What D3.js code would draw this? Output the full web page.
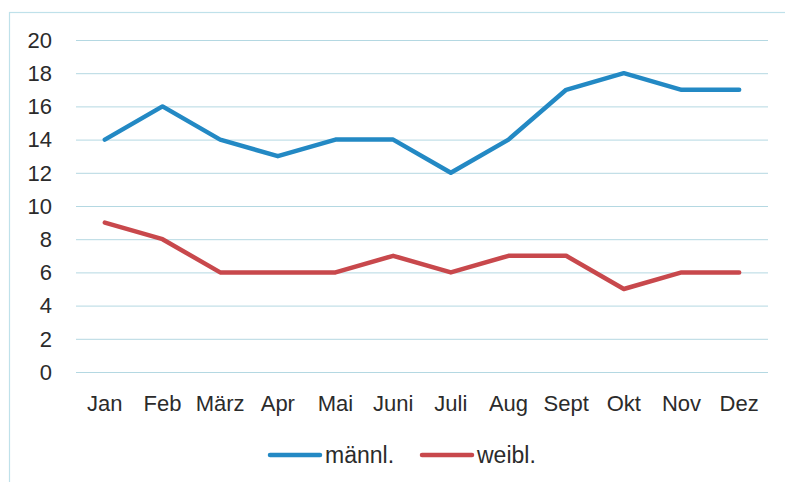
<!DOCTYPE html>
<html>
<head>
<meta charset="utf-8">
<script src="https://cdn.jsdelivr.net/npm/d3@7"></script>
<style>
  body { margin: 0; background: #fff; }
  svg { display: block; font-family: "Liberation Sans", Arial, sans-serif; }
</style>
</head>
<body>
<div id="chart"></div>
<script>
const months = ['Jan', 'Feb', 'März', 'Apr', 'Mai', 'Juni', 'Juli', 'Aug', 'Sept', 'Okt', 'Nov', 'Dez'];
const maennl = [14, 16, 14, 13, 14, 14, 12, 14, 17, 18, 17, 17];
const weibl = [9, 8, 6, 6, 6, 7, 6, 7, 7, 5, 6, 6];
const yTicks = [0, 2, 4, 6, 8, 10, 12, 14, 16, 18, 20];

const width = 785;
const height = 482;
const plotLeft = 76, plotRight = 768, plotTop = 40, plotBottom = 372;

const svg = d3.select('#chart').append('svg')
    .attr('width', width)
    .attr('height', height);

// outer frame
svg.append('rect')
    .attr('x', 9.5).attr('y', 12.5)
    .attr('width', 800).attr('height', 500)
    .attr('fill', 'none')
    .attr('stroke', '#bfe1ea')
    .attr('stroke-width', 1.2);

const x = d3.scalePoint().domain(months).range([plotLeft, plotRight]).padding(0.5);
const y = d3.scaleLinear().domain([0, 20]).range([plotBottom, plotTop]);

// gridlines
svg.append('g')
    .selectAll('line')
    .data(yTicks)
    .join('line')
    .attr('x1', plotLeft).attr('x2', plotRight)
    .attr('y1', d => y(d) + 0.5).attr('y2', d => y(d) + 0.5)
    .attr('stroke', '#b4d8e2')
    .attr('stroke-width', 1);

// y labels
svg.append('g')
    .selectAll('text')
    .data(yTicks)
    .join('text')
    .attr('x', 52)
    .attr('y', d => y(d))
    .attr('dy', '0.35em')
    .attr('text-anchor', 'end')
    .attr('font-size', 22)
    .attr('fill', '#2b2b2b')
    .text(d => d);

// x labels
svg.append('g')
    .selectAll('text')
    .data(months)
    .join('text')
    .attr('x', d => x(d))
    .attr('y', 403)
    .attr('dy', '0.35em')
    .attr('text-anchor', 'middle')
    .attr('font-size', 22)
    .attr('fill', '#2b2b2b')
    .text(d => d);

const line = d3.line()
    .x((d, i) => x(months[i]))
    .y(d => y(d));

const series = [
    { name: 'männl.', values: maennl, color: '#2389c4' },
    { name: 'weibl.', values: weibl, color: '#c8484c' }
];

svg.append('g')
    .selectAll('path')
    .data(series)
    .join('path')
    .attr('d', d => line(d.values))
    .attr('fill', 'none')
    .attr('stroke', d => d.color)
    .attr('stroke-width', 4.5)
    .attr('stroke-linejoin', 'round')
    .attr('stroke-linecap', 'round');

// legend
const legend = svg.append('g')
    .selectAll('g')
    .data(series)
    .join('g')
    .attr('transform', (d, i) => `translate(${270 + i * 152},455)`);

legend.append('line')
    .attr('x1', 0).attr('x2', 50)
    .attr('stroke', d => d.color)
    .attr('stroke-width', 4.5)
    .attr('stroke-linecap', 'round');

legend.append('text')
    .attr('x', 55)
    .attr('dy', '0.35em')
    .attr('font-size', 23)
    .attr('fill', '#2b2b2b')
    .text(d => d.name);
</script>
</body>
</html>
